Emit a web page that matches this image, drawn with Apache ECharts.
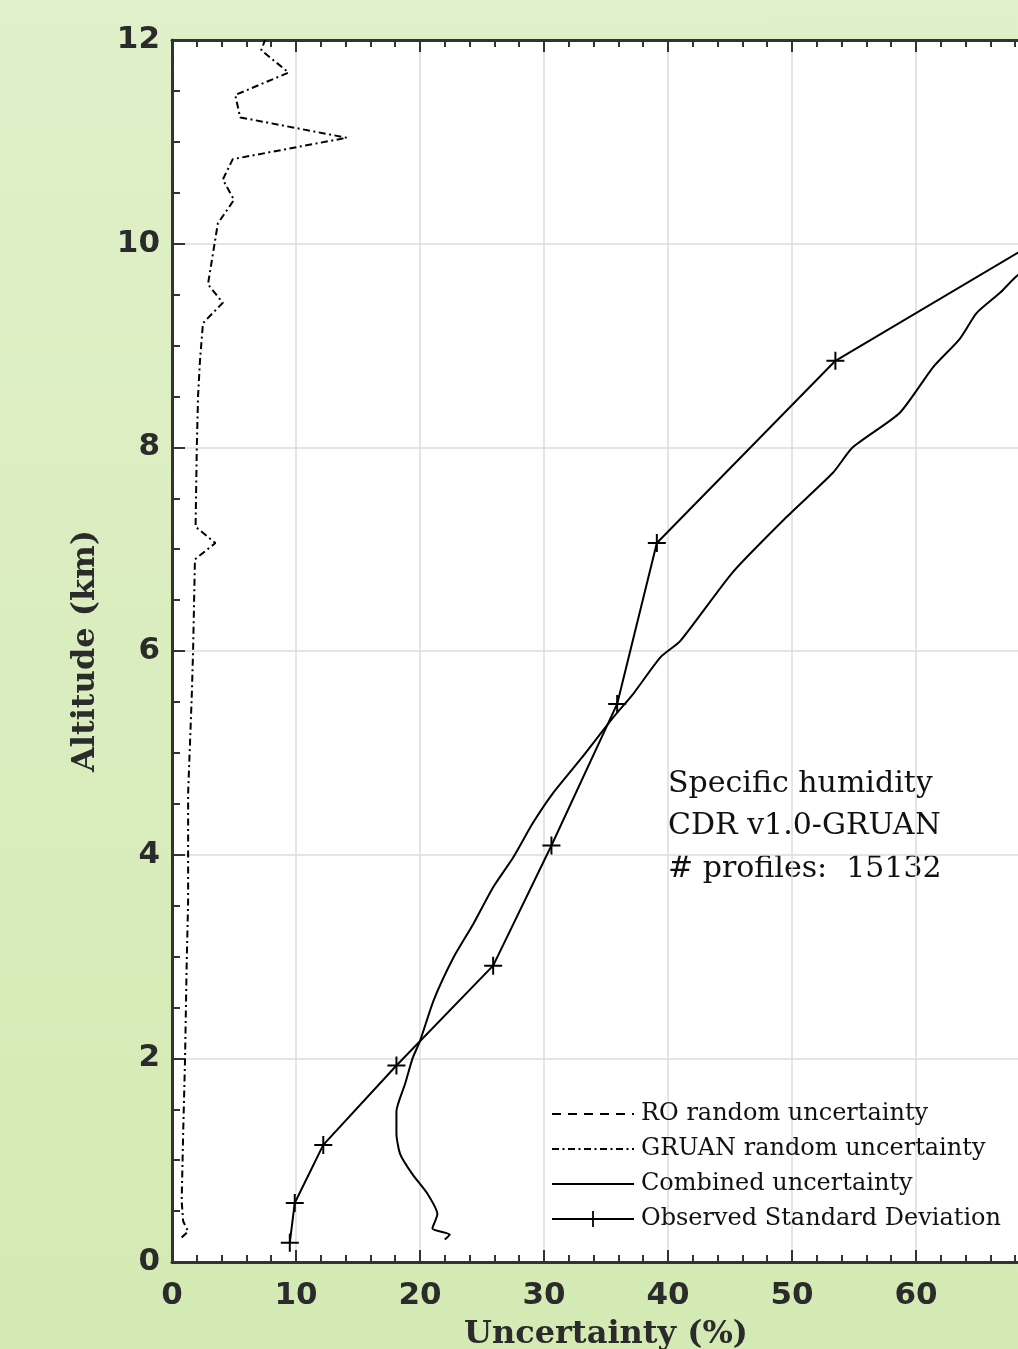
<!DOCTYPE html>
<html>
<head>
<meta charset="utf-8">
<script src="https://cdn.jsdelivr.net/npm/echarts@6/dist/echarts.min.js"></script>
<style>
html,body{margin:0;padding:0;overflow:hidden;}
body{width:1018px;height:1349px;background:linear-gradient(to bottom,#e0f0c9 0%,#d4eab4 100%);}
#chart{width:1018px;height:1349px;}
</style>
</head>
<body>
<div id="chart"></div>
<script>
// ---- data (x = uncertainty %, y = altitude km) ----
const xTicks = [0, 10, 20, 30, 40, 50, 60, 70];
const yTicks = [0, 2, 4, 6, 8, 10, 12];

const roRandom = []; // not visible inside the plotted range

const gruanX = [0.78, 1.3, 0.9, 0.78, 0.9, 1.05, 1.18, 1.3, 1.3, 1.6, 1.7, 1.85, 3.5, 1.9, 2.0, 2.1, 2.26, 2.5, 4.1, 2.9, 3.7, 5.0, 4.1, 4.9, 14.1, 5.5, 5.1, 9.4, 7.2, 7.5];
const gruanY = [0.24, 0.3, 0.4, 0.6, 1.26, 1.98, 2.9, 3.55, 4.6, 5.58, 6.0, 6.9, 7.06, 7.22, 8.0, 8.5, 8.86, 9.22, 9.42, 9.6, 10.2, 10.43, 10.63, 10.83, 11.04, 11.24, 11.46, 11.68, 11.9, 12.0];

const combinedX = [22.0, 22.4, 21.0, 21.4, 20.6, 19.4, 18.4, 18.1, 18.1, 18.8, 19.4, 20.0, 21.1, 22.7, 24.3, 25.9, 27.5, 29.1, 30.7, 33.1, 35.6, 37.2, 39.4, 41.0, 45.2, 49.6, 53.3, 54.9, 58.7, 61.4, 63.5, 64.9, 66.8, 68.1, 72.0];
const combinedY = [0.22, 0.27, 0.33, 0.47, 0.67, 0.86, 1.06, 1.26, 1.48, 1.75, 2.0, 2.17, 2.57, 2.99, 3.32, 3.68, 3.97, 4.31, 4.6, 4.96, 5.35, 5.58, 5.94, 6.1, 6.77, 7.32, 7.75, 8.0, 8.34, 8.79, 9.06, 9.32, 9.52, 9.68, 10.05];

const obsX = [9.5, 9.9, 12.2, 18.1, 25.9, 30.6, 35.9, 39.1, 53.5, 75.0];
const obsY = [0.19, 0.58, 1.15, 1.93, 2.91, 4.09, 5.48, 7.06, 8.85, 10.4];

const seriesNames = ['RO random uncertainty', 'GRUAN random uncertainty', 'Combined uncertainty', 'Observed Standard Deviation'];
const annotation = ['Specific humidity', 'CDR v1.0-GRUAN', '# profiles:  15132'];
const xName = 'Uncertainty (%)';
const yName = 'Altitude (km)';

const zip = (xs, ys) => xs.map((x, i) => [x, ys[i]]);

const axisColor = '#333333';
const gridColor = '#dcdcdc';
const serif = '"DejaVu Serif", serif';
const plusPath = 'path://M-0.55,-5 L0.55,-5 L0.55,5 L-0.55,5 Z M-5,-0.55 L5,-0.55 L5,0.55 L-5,0.55 Z';

const dashRO = [9, 7];
const dashGRUAN = [7, 3.5, 2, 3.5];

const chart = echarts.init(document.getElementById('chart'), null, {renderer: 'canvas'});

const baseX = {
  type: 'value', min: xTicks[0], max: xTicks[xTicks.length - 1], interval: 10,
  axisLine: {show: true, onZero: false, lineStyle: {color: axisColor, width: 3}},
  axisTick: {show: true, inside: true, length: 12, lineStyle: {color: axisColor, width: 2}},
  minorTick: {show: true, splitNumber: 5, length: 7, lineStyle: {color: axisColor, width: 2}},
};
const baseY = {
  type: 'value', min: yTicks[0], max: yTicks[yTicks.length - 1], interval: 2,
  axisLine: {show: true, onZero: false, lineStyle: {color: axisColor, width: 3}},
  axisTick: {show: true, inside: true, length: 13, lineStyle: {color: axisColor, width: 2}},
  minorTick: {show: true, splitNumber: 4, length: 8, lineStyle: {color: axisColor, width: 2}},
};

const legendItem = (name, dash) => ({
  name: name,
  itemStyle: {color: 'rgba(0,0,0,0)', borderColor: 'rgba(0,0,0,0)', borderWidth: 0},
  lineStyle: {color: '#000000', width: 2, type: dash}
});

chart.setOption({
  backgroundColor: 'transparent',
  animation: false,
  grid: {left: 172, top: 40, width: 868, height: 1222, outerBoundsMode: 'none', containLabel: false,
         show: true, backgroundColor: '#ffffff', borderWidth: 0},
  xAxis: [
    Object.assign({}, baseX, {
      position: 'bottom',
      name: xName, nameLocation: 'middle', nameGap: 57,
      nameTextStyle: {fontFamily: '"DejaVu Serif", serif', fontWeight: 'bold', fontSize: 32, color: '#2b2b2b'},
      axisLabel: {margin: 18, fontFamily: '"DejaVu Sans", sans-serif', fontWeight: 'bold', fontSize: 31, color: '#2b2b2b'},
      splitLine: {show: true, lineStyle: {color: gridColor, width: 1.5}},
    }),
    Object.assign({}, baseX, {
      position: 'top',
      axisLabel: {show: false},
      splitLine: {show: false},
    })
  ],
  yAxis: [
    Object.assign({}, baseY, {
      position: 'left',
      name: yName, nameLocation: 'middle', nameGap: 70, nameRotate: 90,
      nameTextStyle: {fontFamily: '"DejaVu Serif", serif', fontWeight: 'bold', fontSize: 32, color: '#2b2b2b'},
      axisLabel: {margin: 12, fontFamily: '"DejaVu Sans", sans-serif', fontWeight: 'bold', fontSize: 31, color: '#2b2b2b'},
      splitLine: {show: true, lineStyle: {color: gridColor, width: 1.5}},
    })
  ],
  legend: {
    orient: 'vertical', left: 546, top: 1097,
    itemWidth: 82, itemHeight: 20, itemGap: 11,
    textStyle: {fontFamily: serif, fontSize: 24, color: '#111', padding: [0, 0, 0, 2]},
    data: [
      legendItem(seriesNames[0], dashRO),
      legendItem(seriesNames[1], dashGRUAN),
      legendItem(seriesNames[2], 'solid'),
      {name: seriesNames[3]}
    ]
  },
  graphic: annotation.map((t, i) => ({
    type: 'text', left: 668, top: 769 + i * 42.5, silent: true,
    style: {text: t, font: '30px "DejaVu Serif", serif', fill: '#111'}
  })),
  series: [
    {
      name: seriesNames[0], type: 'line', data: zip([], roRandom), symbol: 'none',
      lineStyle: {color: '#000', width: 2, type: dashRO}, itemStyle: {color: '#000'}
    },
    {
      name: seriesNames[1], type: 'line', data: zip(gruanX, gruanY), symbol: 'none',
      lineStyle: {color: '#000', width: 2, type: dashGRUAN}, itemStyle: {color: '#000'}
    },
    {
      name: seriesNames[2], type: 'line', data: zip(combinedX, combinedY), symbol: 'none', smooth: 0.2,
      lineStyle: {color: '#000', width: 2}, itemStyle: {color: '#000'}
    },
    {
      name: seriesNames[3], type: 'line', data: zip(obsX, obsY), symbol: plusPath, symbolSize: 18,
      showSymbol: true,
      lineStyle: {color: '#000', width: 2}, itemStyle: {color: '#000'}
    }
  ]
});
</script>
</body>
</html>
